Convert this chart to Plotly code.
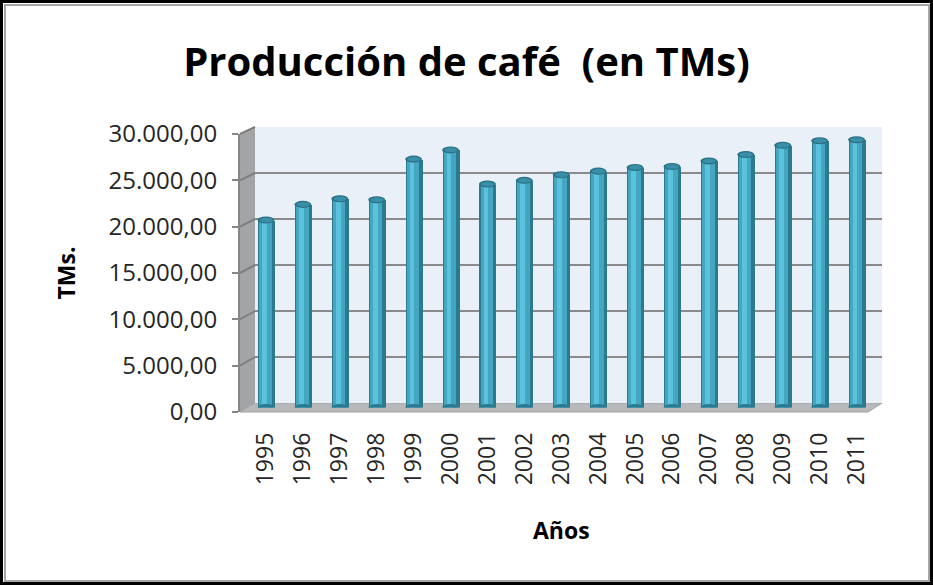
import plotly.graph_objects as go

years = ["1995", "1996", "1997", "1998", "1999", "2000", "2001", "2002", "2003",
         "2004", "2005", "2006", "2007", "2008", "2009", "2010", "2011"]
produccion = [20300, 22000, 22600, 22500, 26900, 27900, 24200, 24600, 25200,
              25600, 26000, 26100, 26700, 27400, 28400, 28900, 29000]
y_ticks = [0, 5000, 10000, 15000, 20000, 25000, 30000]

W, H = 933, 585
Y_MAX = 30000


def fx(px):
    return px / W


def fy(py):
    return (H - py) / H


# pixel boxes: back wall, middle (bars), front (axis)
back = dict(l=255, r=882, t=127, b=403)
mid = dict(l=247.5, r=875, t=130.5, b=407.5)
front = dict(l=240, r=868, t=134, b=412)

fig = go.Figure()

# cylinders (layered bars give the round shading)
fig.add_trace(go.Bar(x=years, y=produccion, xaxis="x3", yaxis="y3", width=0.46,
                     marker=dict(color="#2c7a90", line_width=0), hoverinfo="x+y"))
fig.add_trace(go.Bar(x=years, y=produccion, xaxis="x3", yaxis="y3", width=0.34, offset=-0.2,
                     marker=dict(color="#44a6c1", line_width=0), hoverinfo="skip"))
fig.add_trace(go.Bar(x=years, y=produccion, xaxis="x3", yaxis="y3", width=0.13, offset=-0.12,
                     marker=dict(color="#5ac2dc", line_width=0), hoverinfo="skip"))
# invisible trace so the front axis is drawn
fig.add_trace(go.Scatter(x=years, y=produccion, xaxis="x2", yaxis="y2", mode="markers",
                         marker=dict(opacity=0), hoverinfo="skip"))

shapes = []
# back wall
shapes.append(dict(type="rect", xref="x", yref="y", x0=-0.5, x1=16.5, y0=0, y1=Y_MAX,
                   fillcolor="#e9f0f7", line_width=0, layer="below"))
# side wall
shapes.append(dict(type="path", xref="paper", yref="paper", layer="below",
                   path=f"M{fx(front['l'])},{fy(front['t'])} L{fx(back['l'])},{fy(back['t'])} "
                        f"L{fx(back['l'])},{fy(back['b'])} L{fx(front['l'])},{fy(front['b'])} Z",
                   fillcolor="#a3a4a6", line_width=0))
# side wall grid lines
for v in y_ticks[1:]:
    yf = front["b"] - (front["b"] - front["t"]) * v / Y_MAX
    yb = back["b"] - (back["b"] - back["t"]) * v / Y_MAX
    shapes.append(dict(type="line", xref="paper", yref="paper", x0=fx(front["l"]), y0=fy(yf),
                       x1=fx(back["l"]), y1=fy(yb), line=dict(color="#7f7f7f", width=2)))
# floor
shapes.append(dict(type="path", xref="paper", yref="paper", layer="below",
                   path=f"M{fx(front['l'])},{fy(front['b'])} L{fx(back['l'])},{fy(back['b'])} "
                        f"L{fx(back['r'])},{fy(back['b'])} L{fx(front['r'])},{fy(front['b'])} Z",
                   fillcolor="#b8b9bb", line=dict(color="#a0a0a0", width=1)))
# cylinder tops and bottoms
cap = 760
for i, v in enumerate(produccion):
    shapes.append(dict(type="circle", xref="x3", yref="y3", x0=i - 0.23, x1=i + 0.23,
                       y0=-cap / 2, y1=cap / 2, fillcolor="#2c7a90", line_width=0))
    shapes.append(dict(type="circle", xref="x3", yref="y3", x0=i - 0.23, x1=i + 0.23,
                       y0=v - cap / 2, y1=v + cap / 2, fillcolor="#2a7186", line_width=0))
    shapes.append(dict(type="circle", xref="x3", yref="y3", x0=i - 0.17, x1=i + 0.19,
                       y0=v - cap / 3, y1=v + cap / 3, fillcolor="#3a8ea6", line_width=0))
# frame
shapes.append(dict(type="rect", xref="paper", yref="paper", x0=fx(5), x1=fx(929), y0=fy(581), y1=fy(5),
                   line=dict(color="#a6a6a6", width=2)))
shapes.append(dict(type="rect", xref="paper", yref="paper", x0=0, x1=1, y0=0, y1=1,
                   line=dict(color="#000000", width=6)))

tick_font = dict(family="Open Sans", size=24, color="#262626")
year_font = dict(family="Open Sans", size=23, color="#262626")
label_font = dict(family="Open Sans", size=23, color="#000000", weight="bold")

fig.update_layout(
    template="none",
    width=W, height=H,
    margin=dict(l=0, r=0, t=0, b=0, autoexpand=False),
    paper_bgcolor="white",
    plot_bgcolor="rgba(0,0,0,0)",
    barmode="overlay",
    bargap=0,
    showlegend=False,
    separators=",.",
    shapes=shapes,
    title=dict(text="Producción de café \u00a0(en TMs)", x=0.5, xanchor="center", y=fy(62), yanchor="middle",
               font=dict(family="Open Sans", size=40, color="#000000", weight="bold")),
    xaxis=dict(domain=[fx(back["l"]), fx(back["r"])], range=[-0.5, 16.5], visible=False,
               automargin=False),
    yaxis=dict(domain=[fy(back["b"]), fy(back["t"])], range=[0, Y_MAX], anchor="x", automargin=False,
               tickvals=y_ticks, showticklabels=False, showgrid=True, gridcolor="#8a8a8a", gridwidth=2,
               zeroline=False, ticks=""),
    xaxis2=dict(domain=[fx(front["l"]), fx(front["r"])], range=[-0.5, 16.5], visible=False, anchor="y2",
                automargin=False),
    yaxis2=dict(domain=[fy(front["b"]), fy(front["t"])], range=[0, Y_MAX], anchor="x2", automargin=False,
                tickvals=y_ticks, tickformat=",.2f", tickfont=tick_font, showgrid=False, zeroline=False,
                ticks="outside", ticklen=6, tickcolor="#868686", tickwidth=2, ticklabelstandoff=10,
                showline=True, linecolor="#868686", linewidth=2,
                title=dict(text="TMs.", standoff=27, font=label_font)),
    xaxis3=dict(domain=[fx(mid["l"]), fx(mid["r"])], type="category", anchor="y3", automargin=False,
                tickangle=-90, tickfont=year_font, ticks="outside", ticklen=15,
                tickcolor="rgba(0,0,0,0)", showgrid=False, showline=False,
                title=dict(text="Años", standoff=38, font=label_font)),
    yaxis3=dict(domain=[fy(mid["b"]), fy(mid["t"])], range=[0, Y_MAX], anchor="x3", visible=False,
                automargin=False),
)

fig.write_html("out.html", config={"displayModeBar": False},
               post_script="document.documentElement.style.margin='0';"
                           "document.body.style.margin='0';"
                           "document.body.style.overflow='hidden';")
